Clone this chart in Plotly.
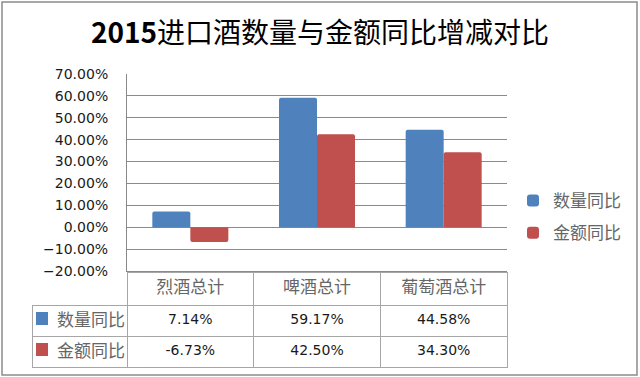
import plotly.graph_objects as go

# ---- data ----
categories = ["烈酒总计", "啤酒总计", "葡萄酒总计"]
series_names = ["数量同比", "金额同比"]
qty_yoy = [7.14, 59.17, 44.58]      # %
amt_yoy = [-6.73, 42.50, 34.30]     # %
series_colors = ["#4F81BD", "#C0504D"]
title_text = "<b>2015</b>进口酒数量与金额同比增减对比"

W, H = 640, 377
def px_x(v): return v / W
def px_y(v): return (H - v) / H

CJK = "Noto Sans CJK SC"
NUM = "DejaVu Sans"
GRID = "#8a8a8a"
TBL = "#a6a6a6"
LABEL = "#666666"

fig = go.Figure()
for name, vals, col in zip(series_names, [qty_yoy, amt_yoy], series_colors):
    fig.add_trace(go.Bar(
        x=categories, y=vals, name=name, legendgroup=name,
        marker=dict(color=col, cornerradius=2, line=dict(width=0)),
        hoverinfo="x+y",
    ))

def fmt(v):
    return f"{v:.2f}%"

# data table: header row of categories + value rows
fig.add_trace(go.Table(
    domain=dict(x=[px_x(127), px_x(507)], y=[px_y(368), px_y(272)]),
    columnwidth=[1, 1, 1],
    header=dict(values=categories, height=33, align="center",
                line=dict(color=TBL, width=1), fill=dict(color="white"),
                font=dict(family=CJK, size=17, color=LABEL)),
    cells=dict(values=[[fmt(q), fmt(a)] for q, a in zip(qty_yoy, amt_yoy)],
               height=31, align="center",
               line=dict(color=TBL, width=1), fill=dict(color="white"),
               font=dict(family=NUM, size=14, color="#1a1a1a")),
))

# row-label column (series names)
pad = "\u2002\u2002"
fig.add_trace(go.Table(
    domain=dict(x=[px_x(32), px_x(127)], y=[px_y(368), px_y(305)]),
    header=dict(values=[pad + series_names[0]], height=31, align="left",
                line=dict(color=TBL, width=1), fill=dict(color="white"),
                font=dict(family=CJK, size=17, color=LABEL)),
    cells=dict(values=[[pad + n for n in series_names[1:]]], height=31, align="left",
               line=dict(color=TBL, width=1), fill=dict(color="white"),
               font=dict(family=CJK, size=17, color=LABEL)),
))

# colour keys inside the row-label cells
shapes = []
for i, col in enumerate(series_colors):
    top = 312 + 31 * i
    shapes.append(dict(type="rect", xref="paper", yref="paper",
                       x0=px_x(36), x1=px_x(48), y0=px_y(top + 13), y1=px_y(top),
                       fillcolor=col, line=dict(width=0), layer="above"))
shapes.append(dict(type="rect", xref="paper", yref="paper",
                   x0=px_x(2), x1=px_x(637), y0=px_y(375), y1=px_y(2),
                   line=dict(color="#8c8c8c", width=1.5), layer="above"))

fig.update_layout(
    width=W, height=H,
    template="none",
    paper_bgcolor="white", plot_bgcolor="white",
    margin=dict(l=0, r=0, t=0, b=0),
    title=dict(text=title_text, x=0.5, xanchor="center", y=px_y(33), yanchor="middle",
               font=dict(family=CJK, size=28, color="#000000")),
    barmode="group", bargap=0.4, bargroupgap=0,
    xaxis=dict(domain=[px_x(127), px_x(507)], showticklabels=False, showgrid=False,
               showline=True, linecolor=GRID, linewidth=1, zeroline=False,
               automargin=False, ticks=""),
    yaxis=dict(domain=[px_y(271), px_y(74)], range=[-20, 70], dtick=10,
               tickformat=".2f", ticksuffix="%", showgrid=True, gridcolor=GRID,
               gridwidth=1, zeroline=True, zerolinecolor=GRID, zerolinewidth=1,
               showline=True, linecolor=GRID, linewidth=1, ticks="",
               ticklabelstandoff=15, automargin=False,
               tickfont=dict(family=NUM, size=14, color="#1a1a1a")),
    showlegend=True,
    legend=dict(x=px_x(513), y=px_y(183), xanchor="left", yanchor="top",
                traceorder="grouped", tracegroupgap=7, bgcolor="rgba(0,0,0,0)",
                font=dict(family=CJK, size=17, color=LABEL)),
    shapes=shapes,
)

fig.write_html("out.html", config={"displayModeBar": False},
               post_script="document.body.style.margin='0';")
